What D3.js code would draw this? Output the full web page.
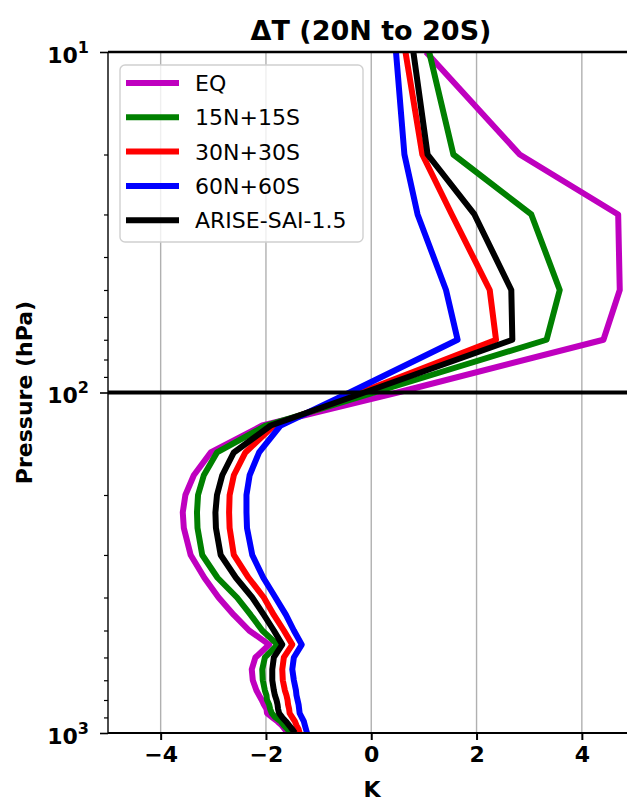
<!DOCTYPE html>
<html>
<head>
<meta charset="utf-8">
<script src="https://cdn.jsdelivr.net/npm/d3@7"></script>
<style>
  body { margin: 0; background: #fff; }
  svg { font-family: "DejaVu Sans", sans-serif; }
</style>
</head>
<body>
<div class="container"></div>
<script>
const levels = [10, 20, 30, 50, 70, 100, 125, 150, 175, 200, 225, 250, 300, 350, 400, 450, 500,
  550, 600, 650, 700, 750, 775, 800, 825, 850, 875, 900, 925, 950, 975, 1000];

const eq = [1.04, 2.82, 4.69, 4.72, 4.41, 0.50, -2.07, -3.05, -3.37, -3.53, -3.58, -3.56, -3.43, -3.17, -2.90, -2.61, -2.32,
  -1.94, -2.20, -2.27, -2.25, -2.18, -2.13, -2.08, -2.04, -1.99, -1.98, -1.88, -1.78, -1.70, -1.64, -1.59];
const lat15 = [1.10, 1.56, 3.04, 3.58, 3.33, 0.06, -2.00, -2.93, -3.18, -3.29, -3.31, -3.30, -3.21, -2.92, -2.55, -2.29, -2.07,
  -1.78, -2.02, -2.07, -2.06, -2.02, -1.99, -1.98, -1.94, -1.92, -1.89, -1.82, -1.72, -1.66, -1.59, -1.53];
const lat30 = [0.65, 0.97, 1.53, 2.25, 2.37, -0.21, -1.85, -2.39, -2.61, -2.69, -2.70, -2.69, -2.61, -2.33, -2.04, -1.85, -1.66,
  -1.50, -1.66, -1.69, -1.68, -1.64, -1.61, -1.59, -1.58, -1.56, -1.55, -1.50, -1.45, -1.42, -1.38, -1.36];
const lat60 = [0.47, 0.63, 0.88, 1.42, 1.64, -0.41, -1.72, -2.13, -2.31, -2.37, -2.37, -2.36, -2.26, -2.05, -1.82, -1.62, -1.47,
  -1.32, -1.47, -1.50, -1.47, -1.43, -1.42, -1.40, -1.38, -1.37, -1.36, -1.32, -1.28, -1.26, -1.24, -1.22];
const arise = [0.80, 1.07, 1.96, 2.66, 2.68, -0.13, -1.91, -2.61, -2.83, -2.93, -2.96, -2.95, -2.86, -2.57, -2.26, -2.04, -1.85,
  -1.69, -1.85, -1.88, -1.88, -1.85, -1.83, -1.80, -1.78, -1.77, -1.75, -1.69, -1.62, -1.56, -1.50, -1.45];

const names = ['EQ', '15N+15S', '30N+30S', '60N+60S', 'ARISE-SAI-1.5'];
const colors = ['#bf00bf', '#008000', '#ff0000', '#0000ff', '#000000'];
const xTicks = [-4, -2, 0, 2, 4];
const yTicks = [10, 100, 1000];
const yMinor = [20, 30, 40, 50, 60, 70, 80, 90, 200, 300, 400, 500, 600, 700, 800, 900];

const width = 627;
const height = 802;
const plotLeft = 108;
const plotRight = 634.5;
const plotTop = 52;
const plotBottom = 733;

const x = d3.scaleLinear().domain([-5, 5]).range([plotLeft, plotRight]);
const y = d3.scaleLog().domain([10, 1000]).range([plotTop, plotBottom]);

const svg = d3.select('.container')
  .append('svg')
  .attr('width', width)
  .attr('height', height);

svg.append('defs').append('clipPath').attr('id', 'clip')
  .append('rect')
  .attr('x', plotLeft).attr('y', plotTop)
  .attr('width', plotRight - plotLeft).attr('height', plotBottom - plotTop);

// grid
svg.append('g')
  .selectAll('line')
  .data(xTicks)
  .enter()
  .append('line')
  .attr('x1', (d) => x(d)).attr('x2', (d) => x(d))
  .attr('y1', plotTop).attr('y2', plotBottom)
  .attr('stroke', '#b0b0b0')
  .attr('stroke-width', 1.4);

// profiles
const series = [eq, lat15, lat30, lat60, arise].map((vals, i) => ({
  name: names[i],
  color: colors[i],
  points: d3.zip(vals, levels),
}));

const line = d3.line().x((d) => x(d[0])).y((d) => y(d[1]));

svg.append('g')
  .attr('clip-path', 'url(#clip)')
  .selectAll('path')
  .data(series)
  .enter()
  .append('path')
  .attr('d', (d) => line(d.points))
  .attr('fill', 'none')
  .attr('stroke', (d) => d.color)
  .attr('stroke-width', 6)
  .attr('stroke-linejoin', 'round');

// 100 hPa line
svg.append('line')
  .attr('x1', plotLeft).attr('x2', width)
  .attr('y1', y(100)).attr('y2', y(100))
  .attr('stroke', '#000')
  .attr('stroke-width', 4);

// spines
svg.append('line')
  .attr('x1', plotLeft).attr('x2', width)
  .attr('y1', plotTop).attr('y2', plotTop)
  .attr('stroke', '#000').attr('stroke-width', 2.4);
svg.append('line')
  .attr('x1', plotLeft).attr('x2', width)
  .attr('y1', plotBottom).attr('y2', plotBottom)
  .attr('stroke', '#000').attr('stroke-width', 2.2);
svg.append('line')
  .attr('x1', plotLeft).attr('x2', plotLeft)
  .attr('y1', plotTop).attr('y2', plotBottom)
  .attr('stroke', '#000').attr('stroke-width', 1.4);

// x axis
const xAxis = d3.axisBottom(x).tickValues(xTicks).tickSize(7).tickPadding(6);
const gx = svg.append('g')
  .attr('transform', `translate(0, ${plotBottom})`)
  .call(xAxis);
gx.select('.domain').remove();
gx.selectAll('.tick line').attr('stroke-width', 2);
gx.selectAll('.tick text')
  .attr('font-size', 22)
  .attr('font-weight', 'bold')
  .attr('font-family', '"DejaVu Sans"')
  .attr('fill', '#000');

// y axis
const gyMinor = svg.append('g')
  .attr('transform', `translate(${plotLeft}, 0)`)
  .call(d3.axisLeft(y).tickValues(yMinor).tickSize(4).tickFormat(''));
gyMinor.select('.domain').remove();
gyMinor.selectAll('.tick line').attr('stroke-width', 1.2);

const gy = svg.append('g')
  .attr('transform', `translate(${plotLeft}, 0)`)
  .call(d3.axisLeft(y).tickValues(yTicks).tickSize(8).tickFormat(''));
gy.select('.domain').remove();
gy.selectAll('.tick line').attr('stroke-width', 1.6);
gy.selectAll('.tick').each(function (d) {
  const t = d3.select(this).append('text')
    .attr('x', -19)
    .attr('y', 10)
    .attr('text-anchor', 'end')
    .attr('font-size', 22)
    .attr('font-weight', 'bold')
    .attr('font-family', '"DejaVu Sans"')
    .attr('fill', '#000');
  t.append('tspan').text('10');
  t.append('tspan').attr('dy', -10).attr('font-size', 16).text(String(Math.round(Math.log10(d))));
});

// labels
svg.append('text')
  .attr('x', 371).attr('y', 40)
  .attr('text-anchor', 'middle')
  .attr('font-size', 27)
  .attr('font-weight', 'bold')
  .text('ΔT (20N to 20S)');

svg.append('text')
  .attr('x', 372).attr('y', 797)
  .attr('text-anchor', 'middle')
  .attr('font-size', 22)
  .attr('font-weight', 'bold')
  .text('K');

svg.append('text')
  .attr('transform', `translate(32, ${(plotTop + plotBottom) / 2}) rotate(-90)`)
  .attr('text-anchor', 'middle')
  .attr('font-size', 22)
  .attr('font-weight', 'bold')
  .text('Pressure (hPa)');

// legend
const legend = svg.append('g');
legend.append('rect')
  .attr('x', 120).attr('y', 65)
  .attr('width', 243).attr('height', 177)
  .attr('rx', 5)
  .attr('fill', '#fff').attr('fill-opacity', 0.8)
  .attr('stroke', '#d0d0d0').attr('stroke-width', 1.4);

const rows = legend.selectAll('g.row')
  .data(series)
  .enter()
  .append('g')
  .attr('class', 'row')
  .attr('transform', (d, i) => `translate(0, ${83 + i * 34.3})`);
rows.append('line')
  .attr('x1', 129).attr('x2', 176)
  .attr('stroke', (d) => d.color)
  .attr('stroke-width', 6)
  .attr('stroke-linecap', 'square');
rows.append('text')
  .attr('x', 195).attr('y', 8)
  .attr('font-size', 22)
  .attr('fill', '#000')
  .text((d) => d.name);
</script>
</body>
</html>
